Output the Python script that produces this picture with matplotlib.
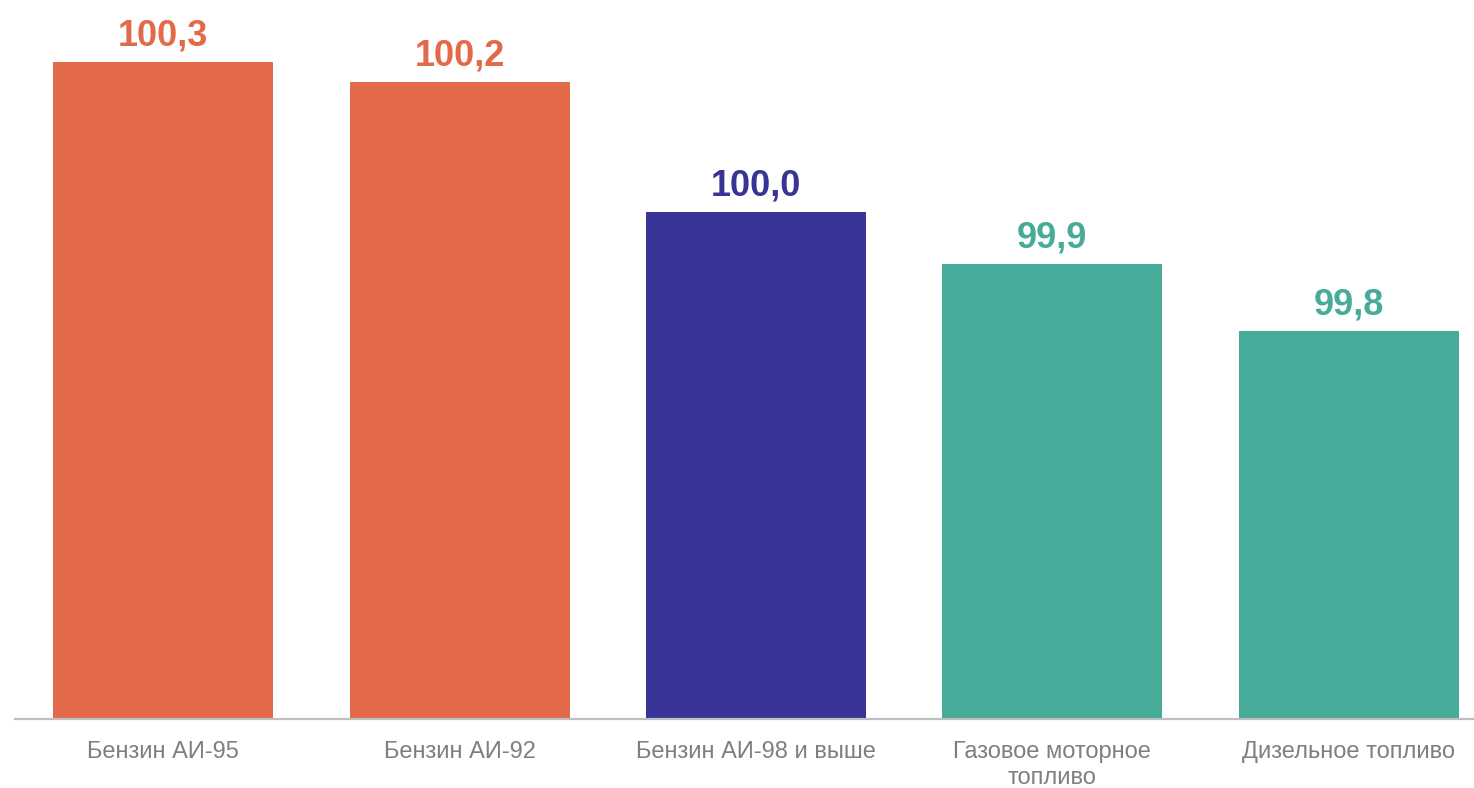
import matplotlib
matplotlib.use("Agg")
import matplotlib.pyplot as plt

categories = ["Бензин АИ-95", "Бензин АИ-92", "Бензин АИ-98 и выше",
              "Газовое моторное\nтопливо", "Дизельное топливо"]
values = [100.27, 100.237, 100.02, 99.933, 99.822]
value_labels = ["100,3", "100,2", "100,0", "99,9", "99,8"]
colors = ["#E36A48", "#E36A48", "#373397", "#46AB99", "#46AB99"]

plt.rcParams['font.family'] = ['Liberation Sans', 'DejaVu Sans']

W, H = 1474, 788
fig = plt.figure(figsize=(W / 100, H / 100), dpi=100)
ax = fig.add_axes([15 / W, (H - 719) / H, 1482 / W, 719 / H])

base = 99.175
top = base + 719 / 600
x = list(range(len(categories)))
bars = ax.bar(x, [v - base for v in values], bottom=base, width=0.742, color=colors)
ax.set_xlim(-0.5, 4.5)
ax.set_ylim(base, top)

for xi, v, lab, c in zip(x, values, value_labels, colors):
    ax.annotate(lab, (xi, v), xytext=(0, 6), textcoords="offset points",
                ha="center", va="bottom", fontsize=26, fontweight="bold", color=c)

for s in ["top", "right", "left"]:
    ax.spines[s].set_visible(False)
ax.spines["bottom"].set_color("#BFBFBF")
ax.spines["bottom"].set_linewidth(1.6)
ax.set_yticks([])
ax.set_xticks(x)
ax.set_xticklabels(categories, fontsize=17, color="#7F7F7F", linespacing=1.22)
ax.tick_params(axis="x", length=0, pad=16)

fig.savefig("out.png", dpi=100)
